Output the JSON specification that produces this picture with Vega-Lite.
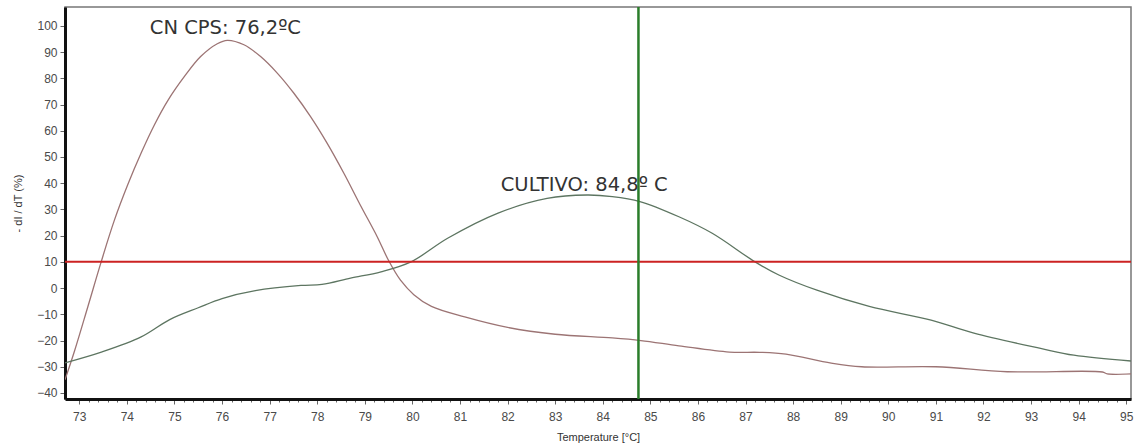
{
  "$schema": "https://vega.github.io/schema/vega-lite/v6.json",
  "width": 1066,
  "height": 392,
  "autosize": {"type": "none"},
  "padding": {"left": 65, "top": 7, "right": 7, "bottom": 47},
  "background": "white",
  "config": {
    "view": {"stroke": "#777777", "strokeWidth": 1.5},
    "axis": {"labelFont": "Liberation Sans", "titleFont": "Liberation Sans", "labelColor": "#4a4a4a", "titleColor": "#333333", "domainColor": "#111111", "domainWidth": 3, "tickColor": "#666666", "grid": false, "labelOverlap": false, "labelFlush": false, "labelFontSize": 12, "titleFontSize": 11, "titleFontWeight": "normal"}
  },
  "datasets": {
    "curves": [
      {"temp": 72.7, "val": -35, "series": "CN CPS"},
      {"temp": 72.9, "val": -24, "series": "CN CPS"},
      {"temp": 73.18, "val": -7.1, "series": "CN CPS"},
      {"temp": 73.46, "val": 10, "series": "CN CPS"},
      {"temp": 73.74, "val": 26, "series": "CN CPS"},
      {"temp": 74.02, "val": 39.5, "series": "CN CPS"},
      {"temp": 74.3, "val": 51.5, "series": "CN CPS"},
      {"temp": 74.58, "val": 62.3, "series": "CN CPS"},
      {"temp": 74.86, "val": 71.5, "series": "CN CPS"},
      {"temp": 75.21, "val": 80.7, "series": "CN CPS"},
      {"temp": 75.55, "val": 88.3, "series": "CN CPS"},
      {"temp": 75.9, "val": 93.2, "series": "CN CPS"},
      {"temp": 76.11, "val": 94.5, "series": "CN CPS"},
      {"temp": 76.46, "val": 92.8, "series": "CN CPS"},
      {"temp": 76.81, "val": 88.3, "series": "CN CPS"},
      {"temp": 77.16, "val": 82, "series": "CN CPS"},
      {"temp": 77.51, "val": 74.3, "series": "CN CPS"},
      {"temp": 77.86, "val": 65.4, "series": "CN CPS"},
      {"temp": 78.21, "val": 55.2, "series": "CN CPS"},
      {"temp": 78.56, "val": 43.8, "series": "CN CPS"},
      {"temp": 78.91, "val": 31.5, "series": "CN CPS"},
      {"temp": 79.26, "val": 19.6, "series": "CN CPS"},
      {"temp": 79.5, "val": 10.5, "series": "CN CPS"},
      {"temp": 79.75, "val": 3, "series": "CN CPS"},
      {"temp": 80.03, "val": -2.5, "series": "CN CPS"},
      {"temp": 80.4, "val": -7, "series": "CN CPS"},
      {"temp": 81.1, "val": -11, "series": "CN CPS"},
      {"temp": 82.0, "val": -15, "series": "CN CPS"},
      {"temp": 83.0, "val": -17.6, "series": "CN CPS"},
      {"temp": 84.2, "val": -19, "series": "CN CPS"},
      {"temp": 84.8, "val": -20, "series": "CN CPS"},
      {"temp": 85.6, "val": -22, "series": "CN CPS"},
      {"temp": 86.66, "val": -24.4, "series": "CN CPS"},
      {"temp": 87.3, "val": -24.5, "series": "CN CPS"},
      {"temp": 87.85, "val": -25.2, "series": "CN CPS"},
      {"temp": 88.8, "val": -28.6, "series": "CN CPS"},
      {"temp": 89.44, "val": -30, "series": "CN CPS"},
      {"temp": 91.0, "val": -30, "series": "CN CPS"},
      {"temp": 92.5, "val": -31.9, "series": "CN CPS"},
      {"temp": 94.5, "val": -32, "series": "CN CPS"},
      {"temp": 94.6, "val": -32.7, "series": "CN CPS"},
      {"temp": 95.1, "val": -32.7, "series": "CN CPS"},
      {"temp": 72.7, "val": -28.5, "series": "CULTIVO"},
      {"temp": 73.48, "val": -24.3, "series": "CULTIVO"},
      {"temp": 74.3, "val": -18.6, "series": "CULTIVO"},
      {"temp": 74.9, "val": -12, "series": "CULTIVO"},
      {"temp": 75.5, "val": -7.5, "series": "CULTIVO"},
      {"temp": 76.0, "val": -4, "series": "CULTIVO"},
      {"temp": 76.7, "val": -1, "series": "CULTIVO"},
      {"temp": 77.66, "val": 1, "series": "CULTIVO"},
      {"temp": 78.1, "val": 1.4, "series": "CULTIVO"},
      {"temp": 78.7, "val": 3.8, "series": "CULTIVO"},
      {"temp": 79.34, "val": 6.2, "series": "CULTIVO"},
      {"temp": 79.97, "val": 10, "series": "CULTIVO"},
      {"temp": 80.74, "val": 19, "series": "CULTIVO"},
      {"temp": 81.8, "val": 28.6, "series": "CULTIVO"},
      {"temp": 82.83, "val": 34.2, "series": "CULTIVO"},
      {"temp": 83.67, "val": 35.5, "series": "CULTIVO"},
      {"temp": 84.2, "val": 34.9, "series": "CULTIVO"},
      {"temp": 84.78, "val": 33, "series": "CULTIVO"},
      {"temp": 85.6, "val": 27.2, "series": "CULTIVO"},
      {"temp": 86.3, "val": 20.9, "series": "CULTIVO"},
      {"temp": 87.2, "val": 10, "series": "CULTIVO"},
      {"temp": 87.7, "val": 5, "series": "CULTIVO"},
      {"temp": 88.5, "val": -0.8, "series": "CULTIVO"},
      {"temp": 89.6, "val": -7, "series": "CULTIVO"},
      {"temp": 90.9, "val": -12.2, "series": "CULTIVO"},
      {"temp": 91.8, "val": -17.2, "series": "CULTIVO"},
      {"temp": 93.2, "val": -23, "series": "CULTIVO"},
      {"temp": 93.9, "val": -25.6, "series": "CULTIVO"},
      {"temp": 95.1, "val": -27.8, "series": "CULTIVO"}
    ],
    "labels": [
      {"temp": 76.07, "val": 99.2, "text": "CN CPS: 76,2ºC"},
      {"temp": 83.61, "val": 39.3, "text": "CULTIVO: 84,8º C"}
    ]
  },
  "layer": [
    {
      "data": {"name": "curves"},
      "mark": {"type": "line", "interpolate": "catmull-rom", "strokeWidth": 1.3, "clip": true},
      "encoding": {
        "x": {
          "field": "temp", "type": "quantitative", "title": "Temperature [°C]",
          "scale": {"domain": [72.7, 95.1], "nice": false, "zero": false},
          "axis": {
            "title": "Temperature [°C]",
            "titlePadding": 9,
            "tickCount": 1000,
            "values": [73,73.2,73.4,73.6,73.8,74,74.2,74.4,74.6,74.8,75,75.2,75.4,75.6,75.8,76,76.2,76.4,76.6,76.8,77,77.2,77.4,77.6,77.8,78,78.2,78.4,78.6,78.8,79,79.2,79.4,79.6,79.8,80,80.2,80.4,80.6,80.8,81,81.2,81.4,81.6,81.8,82,82.2,82.4,82.6,82.8,83,83.2,83.4,83.6,83.8,84,84.2,84.4,84.6,84.8,85,85.2,85.4,85.6,85.8,86,86.2,86.4,86.6,86.8,87,87.2,87.4,87.6,87.8,88,88.2,88.4,88.6,88.8,89,89.2,89.4,89.6,89.8,90,90.2,90.4,90.6,90.8,91,91.2,91.4,91.6,91.8,92,92.2,92.4,92.6,92.8,93,93.2,93.4,93.6,93.8,94,94.2,94.4,94.6,94.8,95],
            "labelExpr": "abs(datum.value - round(datum.value)) < 0.001 ? format(round(datum.value), 'd') : ''",
            "labelPadding": 7,
            "tickSize": {"condition": {"test": "abs(datum.value - round(datum.value)) < 0.001", "value": 5}, "value": 3}
          }
        },
        "y": {
          "field": "val", "type": "quantitative", "title": "- dI / dT (%)",
          "scale": {"domain": [-42.3, 107.2], "nice": false, "zero": false},
          "axis": {
            "title": "- dI / dT (%)",
            "titlePadding": 13,
            "tickCount": 100,
            "values": [-40,-30,-20,-10,0,10,20,30,40,50,60,70,80,90,100],
            "labelPadding": 3,
            "tickSize": 5
          }
        },
        "color": {
          "field": "series", "type": "nominal",
          "scale": {"domain": ["CN CPS", "CULTIVO"], "range": ["#9c7474", "#5d7561"]},
          "legend": null
        }
      }
    },
    {
      "data": {"values": [{"val": 10}]},
      "mark": {"type": "rule", "color": "#cc2222", "strokeWidth": 2},
      "encoding": {
        "y": {
          "field": "val", "type": "quantitative", "title": "- dI / dT (%)",
          "axis": {
            "title": "- dI / dT (%)",
            "titlePadding": 13,
            "tickCount": 100,
            "values": [-40,-30,-20,-10,0,10,20,30,40,50,60,70,80,90,100],
            "labelPadding": 3,
            "tickSize": 5
          }
        }
      }
    },
    {
      "data": {"values": [{"temp": 84.75}]},
      "mark": {"type": "rule", "color": "#2a7d2a", "strokeWidth": 2.5},
      "encoding": {
        "x": {
          "field": "temp", "type": "quantitative", "title": "Temperature [°C]",
          "axis": {
            "title": "Temperature [°C]",
            "titlePadding": 9,
            "tickCount": 1000,
            "values": [73,73.2,73.4,73.6,73.8,74,74.2,74.4,74.6,74.8,75,75.2,75.4,75.6,75.8,76,76.2,76.4,76.6,76.8,77,77.2,77.4,77.6,77.8,78,78.2,78.4,78.6,78.8,79,79.2,79.4,79.6,79.8,80,80.2,80.4,80.6,80.8,81,81.2,81.4,81.6,81.8,82,82.2,82.4,82.6,82.8,83,83.2,83.4,83.6,83.8,84,84.2,84.4,84.6,84.8,85,85.2,85.4,85.6,85.8,86,86.2,86.4,86.6,86.8,87,87.2,87.4,87.6,87.8,88,88.2,88.4,88.6,88.8,89,89.2,89.4,89.6,89.8,90,90.2,90.4,90.6,90.8,91,91.2,91.4,91.6,91.8,92,92.2,92.4,92.6,92.8,93,93.2,93.4,93.6,93.8,94,94.2,94.4,94.6,94.8,95],
            "labelExpr": "abs(datum.value - round(datum.value)) < 0.001 ? format(round(datum.value), 'd') : ''",
            "labelPadding": 7,
            "tickSize": {"condition": {"test": "abs(datum.value - round(datum.value)) < 0.001", "value": 5}, "value": 3}
          }
        }
      }
    },
    {
      "data": {"name": "labels"},
      "mark": {"type": "text", "font": "DejaVu Sans", "fontSize": 19.5, "color": "#333333", "align": "center", "baseline": "middle"},
      "encoding": {
        "x": {"field": "temp", "type": "quantitative", "title": "Temperature [°C]"},
        "y": {"field": "val", "type": "quantitative", "title": "- dI / dT (%)"},
        "text": {"field": "text"}
      }
    }
  ]
}
